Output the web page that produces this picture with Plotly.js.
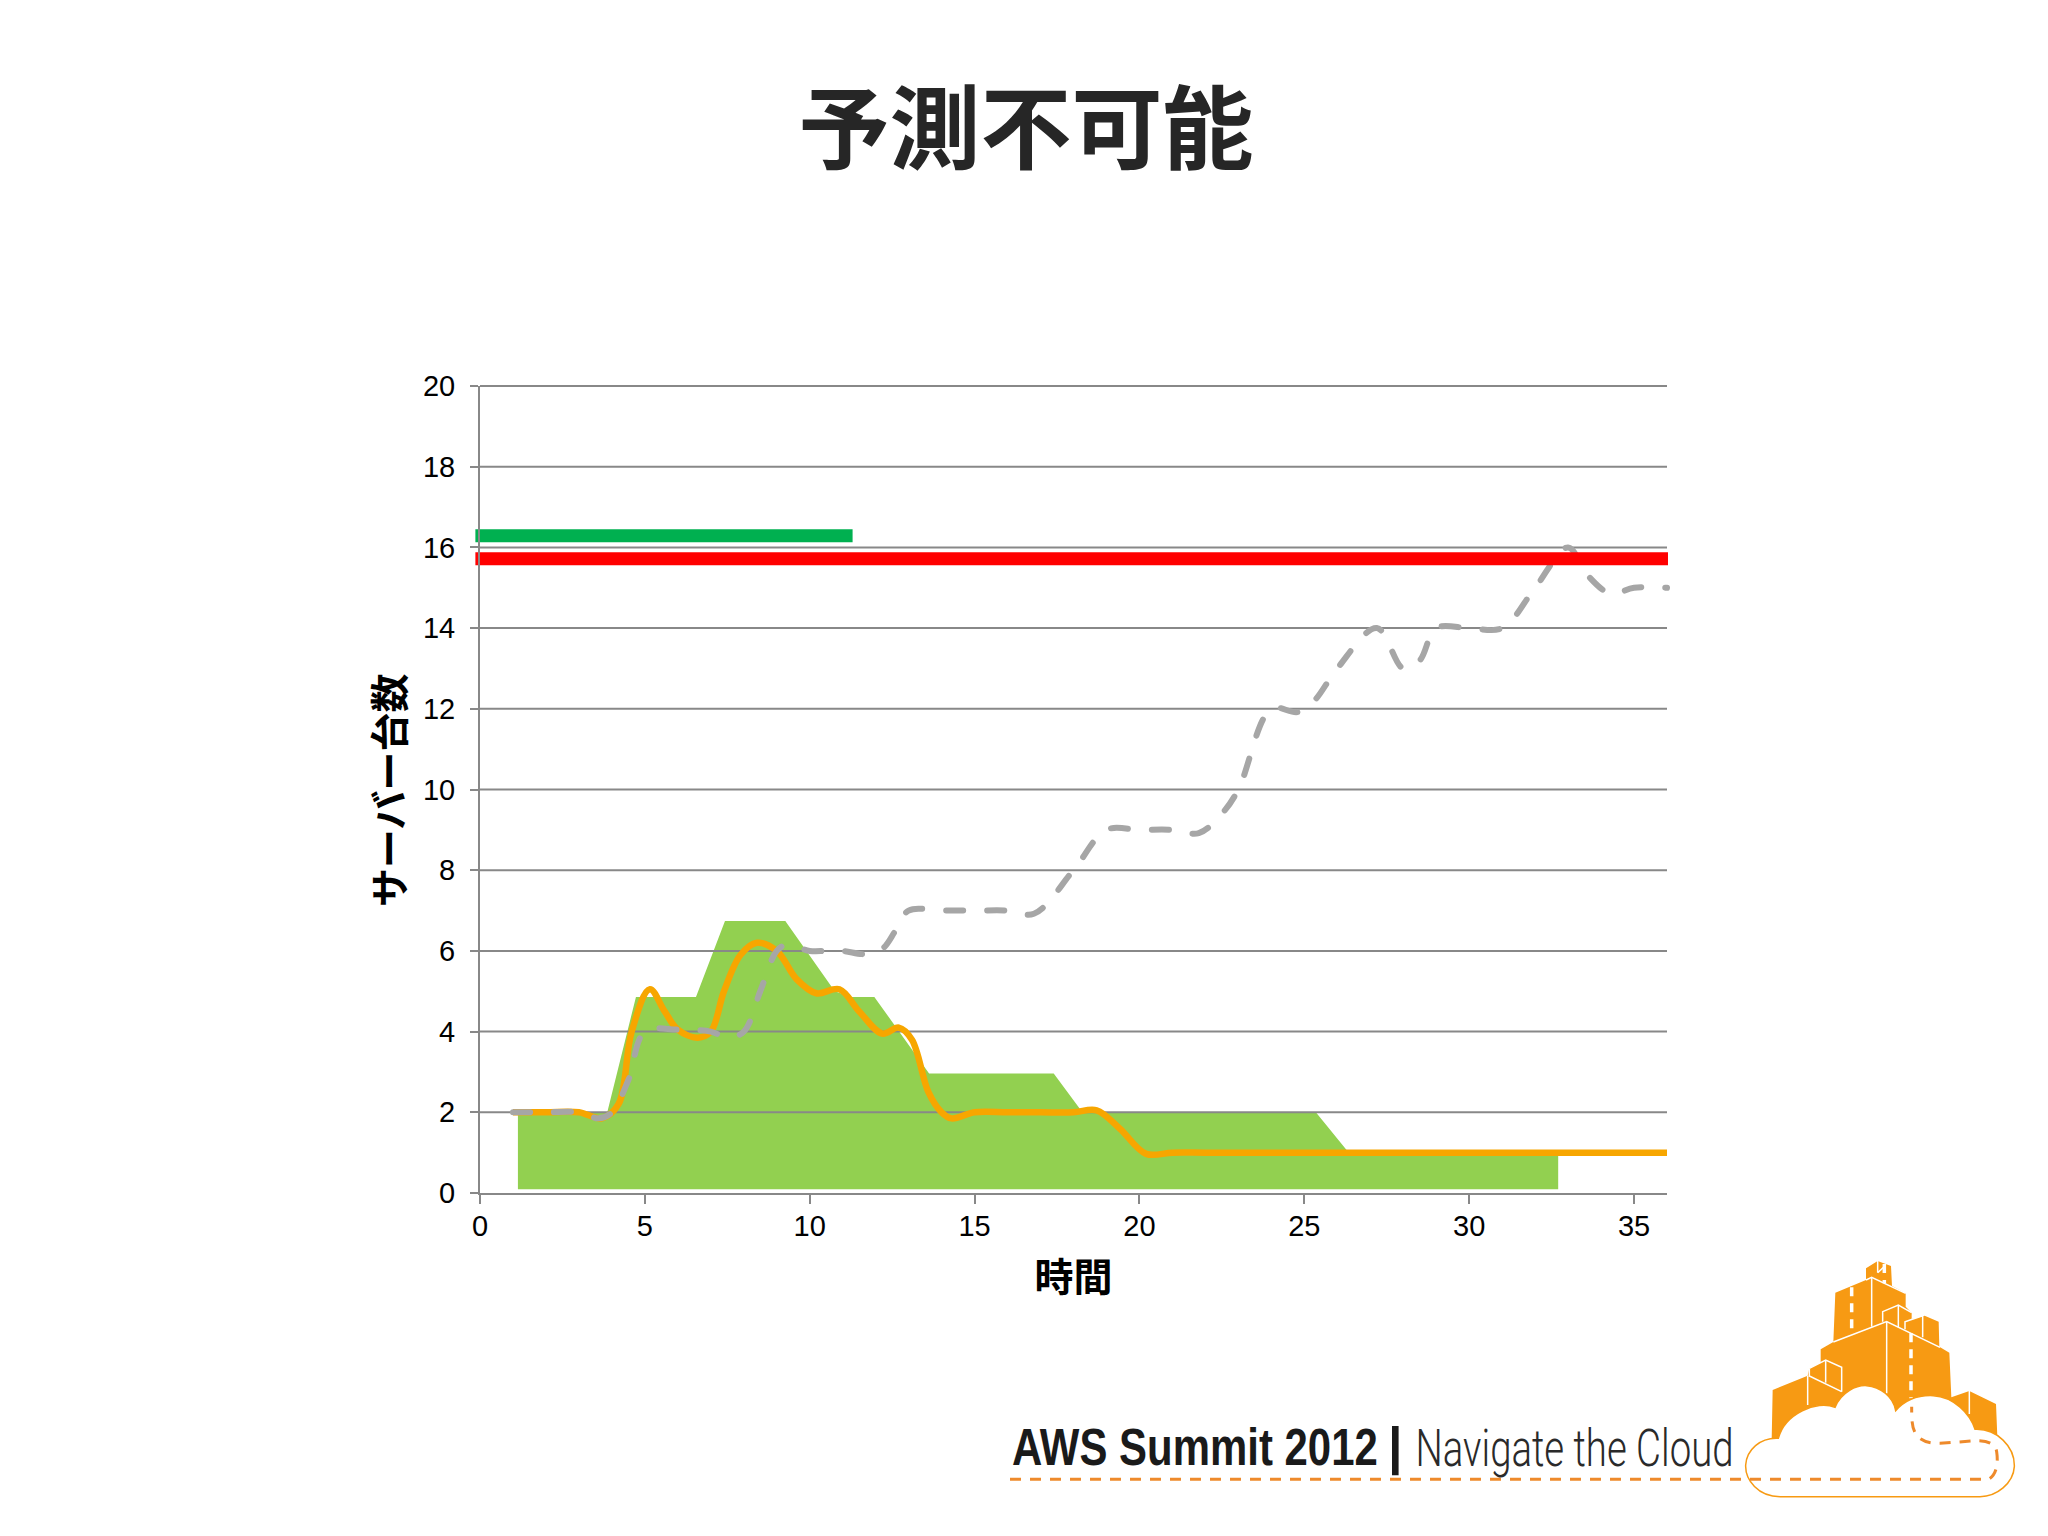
<!DOCTYPE html>
<html><head><meta charset="utf-8">
<script src="https://cdn.plot.ly/plotly-3.0.1.min.js"></script>
<style>html,body{margin:0;padding:0;background:#fff}</style></head>
<body><div id="chart" style="width:2048px;height:1536px"></div>
<script>
const chartTitle = "予測不可能";
const xTitle = "時間";
const yTitle = "サーバー台数";
const xTicks = [0,5,10,15,20,25,30,35];
const yTicks = [0,2,4,6,8,10,12,14,16,18,20];
const xMax = 36;

const areaX = [1.15,1.15,3.86,4.73,6.55,7.43,9.26,10.76,11.28,11.96,13.62,17.4,18.27,25.35,26.35,32.7,32.7];
const areaY = [0.09,1.95,2,4.86,4.86,6.74,6.74,5,4.86,4.86,2.96,2.96,2,2,1,1,0.09];

const demandX = [1,2,3,3.6,4,4.5,5,6,7,7.5,8,8.5,9,9.3,10,10.5,11,11.7,12.2,12.6,13,14,15,16,16.8,18,19,20,21,21.8,22.5,23,24,24.8,25.3,26,27.2,28,28.5,29,30,31,32,33,33.6,34.3,35,36];
const demandY = [2,2,2,1.85,2,2.8,4,4.05,4,3.85,4,5,6,6.15,6,6,6,5.92,6.05,6.5,7,7,7,7,6.92,8,9,9,9,8.92,9.4,10,12,11.92,12.2,13,14,13,13.2,14,14,14,15,16,15.3,14.85,15,15];

const capacityX = [1,2,3,3.7,4.2,4.6,5.15,5.6,6,6.6,7,7.4,7.9,8.4,9,9.6,10.2,10.9,11.5,12.2,12.7,13.1,13.6,14,14.3,15,16,17,18,18.7,19.4,20.2,21,22,24,26,28,30,32,34,36];
const capacityY = [2,2,2,1.85,2.2,4,5.05,4.5,4.05,3.85,4,5,5.9,6.2,6,5.3,4.95,5.05,4.5,3.95,4.1,3.8,2.5,2,1.85,2,2,2,2,2.05,1.6,0.97,1,1,1,1,1,1,1,1,1];

const greenBarX = [-0.14,11.3];
const greenBarY = [16.29,16.29];
const redBarX = [-0.14,36.03];
const redBarY = [15.72,15.72];

const gridColor = "#888888";
const L=480,R=1667,T=386,B=1193;
const gridX=[],gridY=[];
yTicks.forEach(v=>{ if(v>0){gridX.push(0,xMax,null);gridY.push(v,v,null);} });

const traces = [
 {x:areaX,y:areaY,mode:"lines",fill:"toself",fillcolor:"#92D050",line:{width:0,color:"#92D050"},hoverinfo:"skip"},
 {x:gridX,y:gridY,mode:"lines",line:{width:2,color:gridColor},hoverinfo:"skip"},
 {x:capacityX,y:capacityY,mode:"lines",line:{shape:"spline",smoothing:1,width:6.5,color:"#F7A600"}},
 {x:demandX,y:demandY,mode:"lines",line:{shape:"spline",smoothing:1,width:6,color:"#A6A6A6",dash:"17px,24px"}},
 {x:greenBarX,y:greenBarY,mode:"lines",line:{width:13,color:"#00B050"},cliponaxis:false},
 {x:redBarX,y:redBarY,mode:"lines",line:{width:13,color:"#FF0000"},cliponaxis:false}
];

const px=(x)=>(x-L)/(R-L), py=(y)=>(B-y)/(B-T);
const lx=(x)=>px(1730+x/3), ly=(y)=>py(1250+y/3);
function poly(pts,close){
  let s="";
  pts.forEach((p,i)=>{ s+=(i?"L":"M")+lx(p[0])+","+ly(p[1])+" "; });
  return s+(close?"Z":"");
}
function curve(cmds){
  return cmds.map(c=>{
    let o=c[0];
    for(let i=1;i<c.length;i+=2){ o+=(i>1?" ":"")+lx(c[i])+","+ly(c[i+1]); }
    return o;
  }).join(" ");
}
const LOGO="#F79A13", ROUTE="#EE8A2B";
const shapes=[];
const sh=(path,opt)=>shapes.push(Object.assign({type:"path",xref:"paper",yref:"paper",layer:"above",path:path},opt));
sh(poly([[408,55],[443,33],[483,48],[486,108],[527,130],[527,170],[545,188],[545,207],[584,197],[626,215],[628,290],[658,308],[664,442],[718,423],[798,462],[802,560],[125,570],[128,420],[233,377],[238,355],[272,338],[272,298],[310,276],[316,128],[408,90]],true),{fillcolor:LOGO,line:{width:0}});
const edges=[[[408,90],[425,82],[527,130]],[[425,82],[425,230]],[[310,276],[470,215],[630,292]],[[470,215],[470,430]],
 [[458,215],[458,185],[505,165],[545,188]],[[505,165],[505,232]],[[525,238],[525,215],[578,197],[578,262]],
 [[238,355],[238,378],[335,425]],[[238,355],[287,330],[335,352],[335,425]],[[287,330],[287,398]],[[233,377],[233,465]],
 [[718,423],[718,492]],[[443,33],[443,68]],[[443,68],[463,50]]];
edges.forEach(e=>sh(poly(e,false),{line:{color:"#FFFFFF",width:1.5}}));
[[[365,112],[365,240]],[[543,250],[543,445]],[[463,42],[463,100]]].forEach(e=>sh(poly(e,false),{line:{color:"#FFFFFF",width:3.5,dash:"9px,7px"}}));
sh(curve([["M",145,565],["C",165,490,260,450,315,472],["C",335,425,380,405,410,407],["C",450,410,490,440,497,482],["C",530,445,570,435,610,437],["C",670,440,720,490,735,538],["C",800,535,855,590,853,650],["C",850,700,800,740,750,740],["L",150,740],["C",85,740,45,690,47,645],["C",50,600,90,562,145,565],["Z"]]),{fillcolor:"#FFFFFF",line:{color:LOGO,width:1.5}});
sh(curve([["M",-2160,688],["L",775,688],["C",800,675,805,640,800,605],["C",795,575,760,572,740,572],["L",630,580],["C",600,580,575,575,560,555],["C",545,535,545,510,545,470]]),{line:{color:ROUTE,width:3,dash:"11px,9px"}});

const footAWS="AWS Summit 2012", footSep="|", footNav="Navigate the Cloud";
const annotations=[
 {xref:"paper",yref:"paper",x:px(387),y:py(790),text:yTitle,textangle:-90,showarrow:false,xanchor:"center",yanchor:"middle",
  font:{family:"Noto Sans CJK JP",size:39,weight:700,color:"#000000"}},
 {xref:"paper",yref:"paper",x:px(1195),y:py(1478),text:footAWS,showarrow:false,xanchor:"center",yanchor:"bottom",
  font:{family:"Liberation Sans",size:52,weight:700,color:"#1A1A1A"}},
 {xref:"paper",yref:"paper",x:px(1395),y:py(1478),text:footSep,showarrow:false,xanchor:"center",yanchor:"bottom",
  font:{family:"Liberation Sans",size:52,weight:700,color:"#1A1A1A"}},
 {xref:"paper",yref:"paper",x:px(1574),y:py(1480.5),text:footNav,showarrow:false,xanchor:"center",yanchor:"bottom",
  font:{family:"Roboto",size:52,weight:300,color:"#2A2A2A"}}
];

const layout={
 width:2048,height:1536,autosize:false,showlegend:false,
 paper_bgcolor:"#FFFFFF",plot_bgcolor:"#FFFFFF",
 margin:{l:L,r:2048-R,t:T,b:1536-B,pad:0},
 title:{text:chartTitle,x:1026/2048,xanchor:"center",xref:"container",y:1-130.5/1536,yanchor:"middle",yref:"container",
  font:{family:"Noto Sans CJK JP",size:91,weight:700,color:"#262626"}},
 xaxis:{range:[0,xMax],tickmode:"array",tickvals:xTicks,ticks:"outside",ticklen:9,tickwidth:2,tickcolor:gridColor,
  showline:true,linecolor:gridColor,linewidth:2,showgrid:false,zeroline:false,ticklabelstandoff:-3,
  tickfont:{family:"Liberation Sans",size:29,color:"#000000"},
  title:{text:xTitle,standoff:23,font:{family:"Noto Sans CJK JP",size:39,weight:700,color:"#000000"}}},
 yaxis:{range:[0,20],tickmode:"array",tickvals:yTicks,ticks:"outside",ticklen:8,tickwidth:2,tickcolor:gridColor,
  showline:true,linecolor:gridColor,linewidth:2,showgrid:false,zeroline:false,ticklabelstandoff:9,
  tickfont:{family:"Liberation Sans",size:29,color:"#000000"}},
 shapes:shapes,annotations:annotations
};
Plotly.newPlot("chart",traces,layout,{displayModeBar:false,staticPlot:true}).then(gd=>{
  gd.querySelectorAll(".cartesianlayer [clip-path], .cartesianlayer [style*='clip-path']").forEach(el=>{
    el.removeAttribute("clip-path"); el.style.clipPath="";
  });
  const tr=gd.querySelectorAll(".scatterlayer .trace");
  if(tr[3]) tr[3].querySelectorAll("path.js-line").forEach(p=>{p.style.strokeLinecap="round";});
  const fit={[footAWS]:366,[footNav]:318};
  gd.querySelectorAll(".annotation-text").forEach(t=>{
    const w=fit[t.textContent];
    if(w){
      const cx=parseFloat(t.getAttribute("x"))||0, s=w/t.getComputedTextLength();
      t.setAttribute("transform","translate("+cx+",0) scale("+s+",1) translate("+(-cx)+",0)");
    }
  });
});
</script></body></html>
